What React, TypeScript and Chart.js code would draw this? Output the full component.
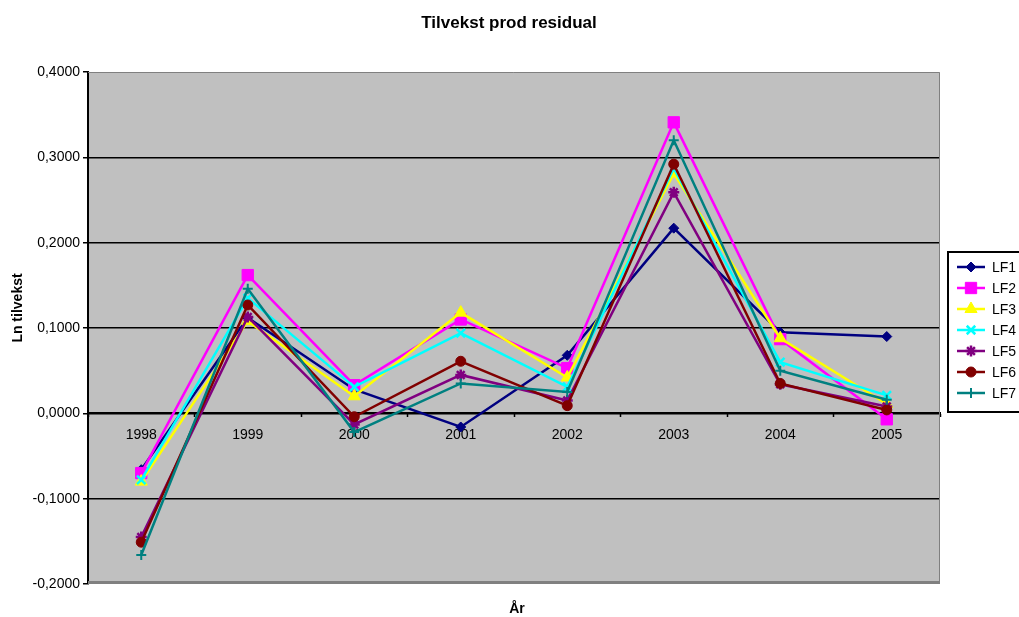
import React, { useEffect, useRef } from 'react';
import { Chart, registerables } from 'chart.js';
import { drawPoint } from 'chart.js/helpers';

Chart.register(...registerables);

const years = ['1998', '1999', '2000', '2001', '2002', '2003', '2004', '2005'];
const seriesNames = ['LF1', 'LF2', 'LF3', 'LF4', 'LF5', 'LF6', 'LF7'];
const LF1 = [-0.066, 0.112, 0.028, -0.016, 0.068, 0.217, 0.095, 0.090];
const LF2 = [-0.070, 0.162, 0.033, 0.110, 0.053, 0.341, 0.087, -0.007];
const LF3 = [-0.080, 0.108, 0.020, 0.118, 0.042, 0.281, 0.088, 0.011];
const LF4 = [-0.078, 0.135, 0.031, 0.094, 0.031, 0.287, 0.060, 0.021];
const LF5 = [-0.145, 0.113, -0.013, 0.045, 0.015, 0.259, 0.034, 0.008];
const LF6 = [-0.151, 0.127, -0.004, 0.061, 0.009, 0.292, 0.035, 0.004];
const LF7 = [-0.166, 0.146, -0.022, 0.035, 0.025, 0.320, 0.050, 0.016];
const seriesValues = [LF1, LF2, LF3, LF4, LF5, LF6, LF7];

const yMin = -0.2;
const yMax = 0.4;
const yStep = 0.1;

const titleText = 'Tilvekst prod residual';
const xTitle = 'År';
const yTitle = 'Ln tilvekst';

const colors = ['#000080', '#FF00FF', '#FFFF00', '#00FFFF', '#800080', '#800000', '#008080'];
const pointStyles = ['rectRot', 'rect', 'triangle', 'crossRot', 'star', 'circle', 'cross'];
const pointRadii = [5, 8, 7, 6, 5.5, 5, 5];
const pointBorders = [1, 1, 1, 2.5, 2.5, 1, 2];

const FONT = '"Liberation Sans", Arial, sans-serif';

const decorPlugin = {
  id: 'decor',
  beforeDraw(chart: any) {
    const { ctx, chartArea: a } = chart;
    ctx.save();
    ctx.fillStyle = '#C0C0C0';
    ctx.fillRect(a.left, a.top, a.right - a.left, a.bottom - a.top);
    ctx.restore();
  },
  beforeDatasetsDraw(chart: any) {
    const { ctx, chartArea: a } = chart;
    ctx.save();
    ctx.strokeStyle = '#808080';
    ctx.lineWidth = 1;
    ctx.beginPath();
    ctx.moveTo(a.left, a.top + 0.5);
    ctx.lineTo(a.right - 0.5, a.top + 0.5);
    ctx.lineTo(a.right - 0.5, a.bottom);
    ctx.stroke();
    ctx.lineWidth = 3;
    ctx.beginPath();
    ctx.moveTo(a.left, a.bottom - 1.5);
    ctx.lineTo(a.right, a.bottom - 1.5);
    ctx.stroke();
    ctx.restore();
  },
  afterDraw(chart: any) {
    const { ctx, chartArea: a } = chart;
    ctx.save();
    ctx.fillStyle = '#000';
    ctx.textAlign = 'center';
    ctx.textBaseline = 'alphabetic';
    ctx.font = `bold 17px ${FONT}`;
    ctx.fillText(titleText, 509, 28);
    ctx.font = `bold 14px ${FONT}`;
    ctx.fillText(xTitle, (a.left + a.right) / 2 + 3, 613);
    ctx.save();
    ctx.translate(18, 308);
    ctx.rotate(-Math.PI / 2);
    ctx.textBaseline = 'middle';
    ctx.fillText(yTitle, 0, 0);
    ctx.restore();

    // legend
    const lx = 948, ly = 252, lw = 76, lh = 160;
    ctx.fillStyle = '#FFFFFF';
    ctx.fillRect(lx, ly, lw, lh);
    ctx.strokeStyle = '#000';
    ctx.lineWidth = 2;
    ctx.strokeRect(lx, ly, lw, lh);
    ctx.font = `14px ${FONT}`;
    ctx.textAlign = 'left';
    ctx.textBaseline = 'middle';
    seriesNames.forEach((name, i) => {
      const y = 267 + i * 21;
      ctx.strokeStyle = colors[i];
      ctx.lineWidth = 2.5;
      ctx.beginPath();
      ctx.moveTo(957, y);
      ctx.lineTo(985, y);
      ctx.stroke();
      ctx.fillStyle = colors[i];
      ctx.strokeStyle = colors[i];
      ctx.lineWidth = pointBorders[i];
      drawPoint(ctx, { pointStyle: pointStyles[i] as any, radius: pointRadii[i], rotation: 0, borderWidth: pointBorders[i] }, 971, y);
      ctx.fillStyle = '#000';
      ctx.fillText(name, 992, y + 1);
    });
    ctx.restore();
  },
};

export default function App() {
  const ref = useRef<HTMLCanvasElement | null>(null);

  useEffect(() => {
    document.body.style.margin = '0';
    if (!ref.current) return;
    const last = Math.round((yMax - yMin) / yStep);
    const chart = new Chart(ref.current, {
      type: 'line',
      data: {
        labels: years,
        datasets: seriesNames.map((name, i) => ({
          label: name,
          data: seriesValues[i],
          borderColor: colors[i],
          backgroundColor: colors[i],
          borderWidth: 2.5,
          pointStyle: pointStyles[i] as any,
          pointRadius: pointRadii[i],
          pointBorderWidth: pointBorders[i],
          pointBackgroundColor: colors[i],
          pointBorderColor: colors[i],
          fill: false,
          tension: 0,
          order: seriesNames.length - i,
        })),
      },
      options: {
        responsive: false,
        animation: false,
        devicePixelRatio: 1,
        layout: { padding: { left: 0, right: 79, top: 72, bottom: 33 } },
        plugins: {
          legend: { display: false },
          title: { display: false },
          tooltip: { enabled: false },
        },
        scales: {
          x: {
            type: 'category',
            position: { y: 0 } as any,
            offset: true,
            grid: {
              offset: true,
              drawOnChartArea: false,
              drawTicks: true,
              tickLength: 3,
              tickColor: '#000',
              tickWidth: 1.5,
            },
            border: { display: true, color: '#000', width: 2 },
            ticks: {
              color: '#000',
              font: { family: FONT, size: 14 },
              padding: 10,
              maxRotation: 0,
              autoSkip: false,
            },
          },
          y: {
            type: 'linear',
            min: yMin,
            max: yMax,
            afterFit: (scale: any) => {
              scale.width = 88;
            },
            grid: {
              color: (c: any) => (c.index === 0 || c.index === last ? 'rgba(0,0,0,0)' : '#000'),
              lineWidth: 1.5,
              tickColor: '#000',
              tickLength: 5,
              tickWidth: 1.5,
            },
            border: { display: true, color: '#000', width: 2 },
            ticks: {
              stepSize: yStep,
              color: '#000',
              font: { family: FONT, size: 14 },
              padding: 3,
              callback: (v: any) => Number(v).toFixed(4).replace('.', ','),
            },
          },
        },
      },
      plugins: [decorPlugin],
    });
    return () => chart.destroy();
  }, []);

  return (
    <div style={{ width: 1019, height: 617 }}>
      <canvas ref={ref} width={1019} height={617} style={{ display: 'block' }} />
    </div>
  );
}
